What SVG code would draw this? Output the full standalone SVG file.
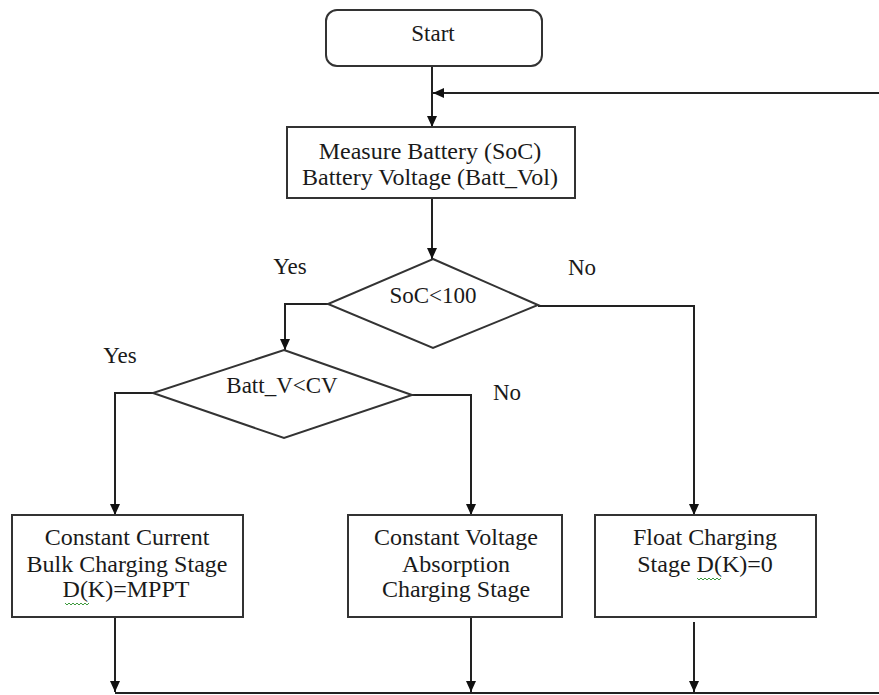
<svg xmlns="http://www.w3.org/2000/svg" width="879" height="695" viewBox="0 0 879 695">
<style>
.shape{fill:#fff;stroke:#333;stroke-width:2}
.conn{fill:none;stroke:#222;stroke-width:2}
.t{font-family:"Liberation Serif","Times New Roman",serif;font-size:23px;fill:#1a1a1a;text-anchor:middle}
.b{font-size:24px}
.sq{fill:none;stroke:#3c9a3c;stroke-width:1}
</style>
<defs>
<marker id="arr" markerUnits="userSpaceOnUse" markerWidth="12" markerHeight="10" refX="11" refY="5" orient="auto">
<path d="M0,0 L11,5 L0,10 z" fill="#111"/>
</marker>
</defs>
<rect width="879" height="695" fill="#fff"/>
<g id="connectors">
<path class="conn" d="M432,66 V127" marker-end="url(#arr)"/>
<path class="conn" d="M879,93 H433" marker-end="url(#arr)"/>
<path class="conn" d="M432,198 V259" marker-end="url(#arr)"/>
<path class="conn" d="M328,304 H285 V350" marker-end="url(#arr)"/>
<path class="conn" d="M538,306 H694 V515" marker-end="url(#arr)"/>
<path class="conn" d="M153,393 H115 V515" marker-end="url(#arr)"/>
<path class="conn" d="M412,395 H471 V515" marker-end="url(#arr)"/>
<path class="conn" d="M115,617 V692" marker-end="url(#arr)"/>
<path class="conn" d="M471,617 V692" marker-end="url(#arr)"/>
<path class="conn" d="M694,622 V692" marker-end="url(#arr)"/>
<path class="conn" d="M115,693 H879"/>
</g>
<g id="start">
<rect class="shape" x="326" y="10" width="216" height="56" rx="11"/>
<text class="t" x="433" y="41">Start</text>
</g>
<g id="measure">
<rect class="shape" x="287" y="127" width="288" height="71"/>
<text class="t b" x="430" y="159">Measure Battery (SoC)</text>
<text class="t b" x="430" y="185">Battery Voltage (Batt_Vol)</text>
</g>
<g id="soc-decision">
<polygon class="shape" points="433,259 538,305 433,348 328,304"/>
<text class="t" x="433" y="303">SoC&lt;100</text>
<text class="t" x="290" y="274">Yes</text>
<text class="t" x="582" y="275">No</text>
</g>
<g id="volt-decision">
<polygon class="shape" points="284,350 412,395 284,438 153,393"/>
<text class="t" x="282" y="393">Batt_V&lt;CV</text>
<text class="t" x="120" y="363">Yes</text>
<text class="t" x="507" y="400">No</text>
</g>
<g id="bulk">
<rect class="shape" x="12" y="515" width="231" height="102"/>
<text class="t b" x="127" y="545">Constant Current</text>
<text class="t b" x="127" y="572">Bulk Charging Stage</text>
<text class="t b" x="126" y="597">D(K)=MPPT</text>
<path class="sq" d="M65,603 l2,2 l2,-2 l2,2 l2,-2 l2,2 l2,-2 l2,2 l2,-2 l2,2 l2,-2 l2,2 l2,-2"/>
</g>
<g id="absorption">
<rect class="shape" x="348" y="515" width="214" height="102"/>
<text class="t b" x="456" y="545">Constant Voltage</text>
<text class="t b" x="456" y="572">Absorption</text>
<text class="t b" x="456" y="597">Charging Stage</text>
</g>
<g id="float">
<rect class="shape" x="595" y="515" width="221" height="102"/>
<text class="t b" x="705" y="545">Float Charging</text>
<text class="t b" x="705" y="572">Stage D(K)=0</text>
<path class="sq" d="M697,578 l2,2 l2,-2 l2,2 l2,-2 l2,2 l2,-2 l2,2 l2,-2 l2,2 l2,-2 l2,2 l2,-2"/>
</g>
</svg>
